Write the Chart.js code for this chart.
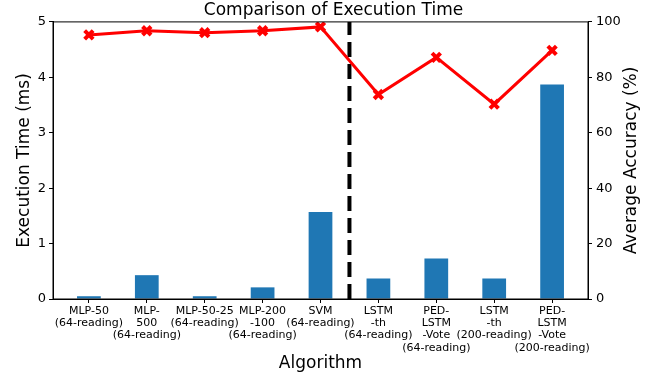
<!DOCTYPE html>
<html>
<head>
<meta charset="utf-8">
<script src="https://cdn.jsdelivr.net/npm/chart.js@4"></script>
<style>
  html, body { margin: 0; padding: 0; background: #fff; }
</style>
</head>
<body>
<canvas id="chart" width="667" height="381"></canvas>
<script>
// algorithm names, split into lines like the original tick labels
const algorithms = [
  ["MLP-50", "(64-reading)"],
  ["MLP-", "500", "(64-reading)"],
  ["MLP-50-25", "(64-reading)"],
  ["MLP-200", "-100", "(64-reading)"],
  ["SVM", "(64-reading)"],
  ["LSTM", "-th", "(64-reading)"],
  ["PED-", "LSTM", "-Vote", "(64-reading)"],
  ["LSTM", "-th", "(200-reading)"],
  ["PED-", "LSTM", "-Vote", "(200-reading)"],
];

// execution time in ms (bars, left axis)
const execTime = [0.05, 0.43, 0.05, 0.21, 1.57, 0.37, 0.73, 0.37, 3.87];

// average accuracy in % (red line, right axis)
const accuracy = [95.3, 96.8, 96.1, 96.8, 98.2, 73.8, 87.2, 70.3, 89.7];

const timeTicks = [0, 1, 2, 3, 4, 5];
const accTicks = [0, 20, 40, 60, 80, 100];

// dashed separator sits between SVM and LSTM-th
const dividerAt = 4.5;

const font = "'DejaVu Sans', sans-serif";
const rightTitle = "Average Accuracy (%)";

const dividerPlugin = {
  id: "divider",
  beforeDatasetsDraw(chart) {
    const { ctx, chartArea, scales } = chart;
    const px = scales.x.getPixelForValue(dividerAt);
    ctx.save();
    ctx.strokeStyle = "#000";
    ctx.lineWidth = 4;
    ctx.setLineDash([15, 7]);
    ctx.beginPath();
    ctx.moveTo(px, chartArea.bottom);
    ctx.lineTo(px, chartArea.top);
    ctx.stroke();
    ctx.restore();
  },
};

// matplotlib style box around the axes + right axis title read bottom-up
const framePlugin = {
  id: "frame",
  afterDraw(chart) {
    const { ctx, chartArea, scales } = chart;
    ctx.save();
    ctx.strokeStyle = "#000";
    ctx.lineWidth = 1;
    ctx.strokeRect(chartArea.left, chartArea.top, chartArea.width, chartArea.height);

    const y1 = scales.y1;
    ctx.translate(y1.right - 35, (chartArea.top + chartArea.bottom) / 2);
    ctx.rotate(-Math.PI / 2);
    ctx.fillStyle = "#000";
    ctx.font = "17px " + font;
    ctx.textAlign = "center";
    ctx.textBaseline = "middle";
    ctx.fillText(rightTitle, 0, 0);
    ctx.restore();
  },
};

const ctx = document.getElementById("chart");

new Chart(ctx, {
  data: {
    datasets: [
      {
        type: "line",
        label: "Average Accuracy",
        data: accuracy.map((v, i) => ({ x: i, y: v })),
        yAxisID: "y1",
        borderColor: "red",
        backgroundColor: "red",
        borderWidth: 3,
        pointStyle: "crossRot",
        pointRadius: 6,
        pointBorderWidth: 4,
        order: 0,
      },
      {
        type: "bar",
        label: "Execution Time",
        data: execTime.map((v, i) => ({ x: i, y: v })),
        yAxisID: "y",
        backgroundColor: "#1f77b4",
        barPercentage: 0.41,
        categoryPercentage: 1,
        order: 1,
      },
    ],
  },
  options: {
    responsive: false,
    animation: false,
    layout: { padding: 0 },
    plugins: {
      legend: { display: false },
      tooltip: { enabled: false },
      title: {
        display: true,
        text: "Comparison of Execution Time",
        color: "#000",
        font: { family: font, size: 17, weight: "normal" },
        padding: { top: 0, bottom: 1.5 },
      },
    },
    scales: {
      x: {
        type: "linear",
        offset: false,
        min: -0.62,
        max: algorithms.length - 1 + 0.62,
        grid: { offset: false, drawOnChartArea: false, color: "#000", tickLength: 4 },
        border: { color: "#000" },
        ticks: {
          stepSize: 1,
          includeBounds: false,
          autoSkip: false,
          maxRotation: 0,
          color: "#000",
          padding: 2,
          font: { family: font, size: 11, lineHeight: 1.11 },
          callback: (v) => algorithms[v] || "",
        },
        title: {
          display: true,
          text: "Algorithm",
          color: "#000",
          font: { family: font, size: 17 },
          padding: { top: 0, bottom: 7 },
        },
        afterFit: (s) => { s.height = 82; },
      },
      y: {
        position: "left",
        min: timeTicks[0],
        max: timeTicks[timeTicks.length - 1],
        grid: { drawOnChartArea: false, color: "#000", tickLength: 4 },
        border: { color: "#000" },
        ticks: {
          stepSize: 1,
          color: "#000",
          padding: 3,
          font: { family: font, size: 13 },
        },
        title: {
          display: true,
          text: "Execution Time (ms)",
          color: "#000",
          font: { family: font, size: 17 },
          padding: { top: 14 },
        },
        afterFit: (s) => { s.width = 53; },
      },
      y1: {
        position: "right",
        min: accTicks[0],
        max: accTicks[accTicks.length - 1],
        grid: { drawOnChartArea: false, color: "#000", tickLength: 4 },
        border: { color: "#000" },
        ticks: {
          stepSize: 20,
          color: "#000",
          padding: 4,
          font: { family: font, size: 13 },
        },
        afterFit: (s) => { s.width = 79; },
      },
    },
  },
  plugins: [dividerPlugin, framePlugin],
});
</script>
</body>
</html>
